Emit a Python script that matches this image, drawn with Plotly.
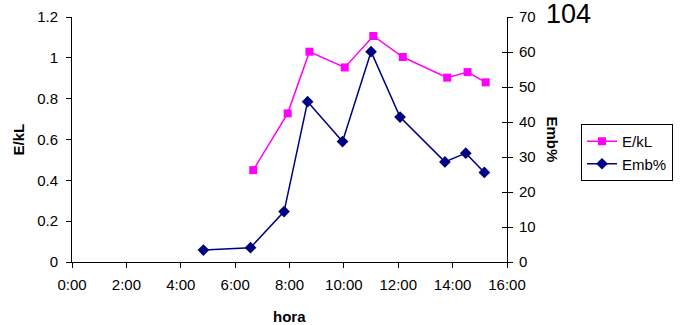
import plotly.graph_objects as go

# E/kL series (pink squares)
ekl_times = ["6:40", "7:56", "8:44", "10:02", "11:05", "12:10", "13:48", "14:33", "15:13"]
ekl_values = [0.45, 0.728, 1.03, 0.953, 1.107, 1.004, 0.903, 0.930, 0.880]

# Emb% series (navy diamonds)
emb_times = ["4:50", "6:34", "7:48", "8:40", "9:57", "11:00", "12:04", "13:43", "14:29", "15:10"]
emb_values = [3.4, 4.1, 14.4, 45.8, 34.4, 60.1, 41.4, 28.6, 31.1, 25.6]

x_tick_hours = [0, 2, 4, 6, 8, 10, 12, 14, 16]
x_tick_labels = ["0:00", "2:00", "4:00", "6:00", "8:00", "10:00", "12:00", "14:00", "16:00"]
y_left_ticks = [0, 0.2, 0.4, 0.6, 0.8, 1.0, 1.2]
y_right_ticks = [0, 10, 20, 30, 40, 50, 60, 70]


def to_hours(t):
    h, m = t.split(":")
    return int(h) + int(m) / 60.0


FONT = "Liberation Sans, Arial, sans-serif"

W, H = 683, 325
L, T = 72, 17
PW, PH = 435, 245

fig = go.Figure()
fig.add_trace(go.Scatter(
    x=[to_hours(t) for t in ekl_times], y=ekl_values, name="E/kL",
    mode="lines+markers", yaxis="y",
    line=dict(color="#FF00FF", width=1.5),
    marker=dict(symbol="square", size=8, color="#FF00FF"),
))
fig.add_trace(go.Scatter(
    x=[to_hours(t) for t in emb_times], y=emb_values, name="Emb%",
    mode="lines+markers", yaxis="y2",
    line=dict(color="#000080", width=1.5),
    marker=dict(symbol="diamond", size=9, color="#000080"),
))
# invisible helper trace for the inner half of the right-axis ticks
fig.add_trace(go.Scatter(x=[0], y=[0], yaxis="y3", mode="markers",
                         marker=dict(opacity=0), showlegend=False, hoverinfo="skip"))

axis_common = dict(showgrid=False, zeroline=False, showline=True, linecolor="black",
                   linewidth=1, ticks="outside", ticklen=5, tickcolor="black", tickwidth=1,
                   tickfont=dict(family=FONT, size=15, color="black"))


def px_x(px):
    return (px - L) / PW


def px_y(py):
    return (T + PH - py) / PH


fig.update_layout(
    width=W, height=H,
    margin=dict(l=L, r=W - L - PW, t=T, b=H - T - PH, autoexpand=False),
    paper_bgcolor="white", plot_bgcolor="white",
    font=dict(family=FONT, size=15, color="black"),
    xaxis=dict(range=[0, 16], tickvals=x_tick_hours, ticktext=x_tick_labels,
               ticklabelstandoff=4, **axis_common),
    yaxis=dict(range=[0, 1.2], tickvals=y_left_ticks, ticklabelstandoff=5, **axis_common),
    yaxis2=dict(range=[0, 70], tickvals=y_right_ticks, overlaying="y", side="right",
                anchor="x", ticklabelstandoff=3, **axis_common),
    yaxis3=dict(range=[0, 70], tickvals=y_right_ticks, overlaying="y", side="right",
                anchor="x", showgrid=False, zeroline=False, showline=False,
                ticks="inside", ticklen=5, tickcolor="black", showticklabels=False),
    legend=dict(x=px_x(581), y=px_y(124), xanchor="left", yanchor="top",
                bordercolor="black", borderwidth=1, bgcolor="white",
                font=dict(family=FONT, size=15, color="black"),
                tracegroupgap=0, entrywidth=64),
    showlegend=True,
    annotations=[
        dict(text="<b>E/kL</b>", xref="paper", yref="paper", x=px_x(18), y=0.5,
             textangle=-90, showarrow=False, xanchor="center", yanchor="middle",
             font=dict(family=FONT, size=15, color="black")),
        dict(text="<b>Emb%</b>", xref="paper", yref="paper", x=px_x(552), y=0.5,
             textangle=90, showarrow=False, xanchor="center", yanchor="middle",
             font=dict(family=FONT, size=15, color="black")),
        dict(text="<b>hora</b>", xref="paper", yref="paper", x=px_x(289),
             y=px_y(316), showarrow=False, xanchor="center", yanchor="middle",
             font=dict(family=FONT, size=15, color="black")),
        dict(text="104", xref="paper", yref="paper", x=px_x(544),
             y=px_y(14), showarrow=False, xanchor="left", yanchor="middle",
             font=dict(family=FONT, size=27, color="black")),
    ],
)

fig.write_html(
    "out.html",
    config={"displayModeBar": False},
    post_script="document.body.style.margin='0';document.body.style.overflow='hidden';",
)
